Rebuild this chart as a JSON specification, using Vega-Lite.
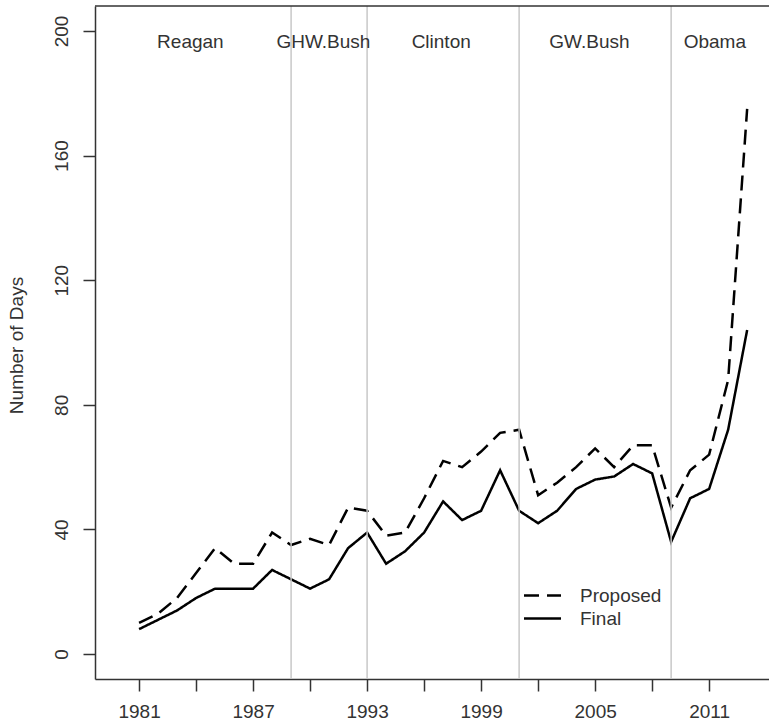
{
  "$schema": "https://vega.github.io/schema/vega-lite/v6.json",
  "width": 674,
  "height": 673,
  "autosize": {"type": "none"},
  "padding": {"left": 95, "top": 6, "right": 0, "bottom": 48},
  "background": "white",
  "config": {
    "view": {"stroke": null},
    "font": "Liberation Sans",
    "axis": {
      "grid": false,
      "domainColor": "#333",
      "domainWidth": 1.5,
      "tickColor": "#333",
      "tickWidth": 1.5,
      "tickSize": 12,
      "labelFont": "Liberation Sans",
      "labelFontSize": 19,
      "labelColor": "#333",
      "titleFont": "Liberation Sans",
      "titleFontSize": 19,
      "titleFontWeight": "normal",
      "titleColor": "#333"
    }
  },
  "datasets": {
    "days": [
      {"year": 1981, "type": "Proposed", "days": 10}, {"year": 1981, "type": "Final", "days": 8},
      {"year": 1982, "type": "Proposed", "days": 13}, {"year": 1982, "type": "Final", "days": 11},
      {"year": 1983, "type": "Proposed", "days": 18}, {"year": 1983, "type": "Final", "days": 14},
      {"year": 1984, "type": "Proposed", "days": 26}, {"year": 1984, "type": "Final", "days": 18},
      {"year": 1985, "type": "Proposed", "days": 34}, {"year": 1985, "type": "Final", "days": 21},
      {"year": 1986, "type": "Proposed", "days": 29}, {"year": 1986, "type": "Final", "days": 21},
      {"year": 1987, "type": "Proposed", "days": 29}, {"year": 1987, "type": "Final", "days": 21},
      {"year": 1988, "type": "Proposed", "days": 39}, {"year": 1988, "type": "Final", "days": 27},
      {"year": 1989, "type": "Proposed", "days": 35}, {"year": 1989, "type": "Final", "days": 24},
      {"year": 1990, "type": "Proposed", "days": 37}, {"year": 1990, "type": "Final", "days": 21},
      {"year": 1991, "type": "Proposed", "days": 35}, {"year": 1991, "type": "Final", "days": 24},
      {"year": 1992, "type": "Proposed", "days": 47}, {"year": 1992, "type": "Final", "days": 34},
      {"year": 1993, "type": "Proposed", "days": 46}, {"year": 1993, "type": "Final", "days": 39},
      {"year": 1994, "type": "Proposed", "days": 38}, {"year": 1994, "type": "Final", "days": 29},
      {"year": 1995, "type": "Proposed", "days": 39}, {"year": 1995, "type": "Final", "days": 33},
      {"year": 1996, "type": "Proposed", "days": 50}, {"year": 1996, "type": "Final", "days": 39},
      {"year": 1997, "type": "Proposed", "days": 62}, {"year": 1997, "type": "Final", "days": 49},
      {"year": 1998, "type": "Proposed", "days": 60}, {"year": 1998, "type": "Final", "days": 43},
      {"year": 1999, "type": "Proposed", "days": 65}, {"year": 1999, "type": "Final", "days": 46},
      {"year": 2000, "type": "Proposed", "days": 71}, {"year": 2000, "type": "Final", "days": 59},
      {"year": 2001, "type": "Proposed", "days": 72}, {"year": 2001, "type": "Final", "days": 46},
      {"year": 2002, "type": "Proposed", "days": 51}, {"year": 2002, "type": "Final", "days": 42},
      {"year": 2003, "type": "Proposed", "days": 55}, {"year": 2003, "type": "Final", "days": 46},
      {"year": 2004, "type": "Proposed", "days": 60}, {"year": 2004, "type": "Final", "days": 53},
      {"year": 2005, "type": "Proposed", "days": 66}, {"year": 2005, "type": "Final", "days": 56},
      {"year": 2006, "type": "Proposed", "days": 60}, {"year": 2006, "type": "Final", "days": 57},
      {"year": 2007, "type": "Proposed", "days": 67}, {"year": 2007, "type": "Final", "days": 61},
      {"year": 2008, "type": "Proposed", "days": 67}, {"year": 2008, "type": "Final", "days": 58},
      {"year": 2009, "type": "Proposed", "days": 47}, {"year": 2009, "type": "Final", "days": 36},
      {"year": 2010, "type": "Proposed", "days": 59}, {"year": 2010, "type": "Final", "days": 50},
      {"year": 2011, "type": "Proposed", "days": 64}, {"year": 2011, "type": "Final", "days": 53},
      {"year": 2012, "type": "Proposed", "days": 88}, {"year": 2012, "type": "Final", "days": 72},
      {"year": 2013, "type": "Proposed", "days": 175}, {"year": 2013, "type": "Final", "days": 104}
    ],
    "terms": [
      {"year": 1989}, {"year": 1993}, {"year": 2001}, {"year": 2009}
    ],
    "presidents": [
      {"name": "Reagan", "year": 1983.7, "days": 196.4},
      {"name": "GHW.Bush", "year": 1990.7, "days": 196.4},
      {"name": "Clinton", "year": 1996.9, "days": 196.4},
      {"name": "GW.Bush", "year": 2004.7, "days": 196.4},
      {"name": "Obama", "year": 2011.3, "days": 196.4}
    ],
    "frame": [{"days": 208}]
  },
  "layer": [
    {
      "data": {"name": "days"},
      "mark": {"type": "line", "color": "black", "strokeWidth": 2.5, "strokeCap": "butt"},
      "encoding": {
        "x": {
          "field": "year", "type": "quantitative",
          "scale": {"domain": [1978.68, 2014.15], "nice": false, "zero": false},
          "axis": {
            "title": null,
            "values": [1981, 1984, 1987, 1990, 1993, 1996, 1999, 2002, 2005, 2008, 2011],
            "labelExpr": "(datum.value - 1981) % 6 == 0 ? datum.value : ''",
            "labelPadding": 11,
            "labelFlush": false,
            "labelOverlap": false
          }
        },
        "y": {
          "field": "days", "type": "quantitative",
          "scale": {"domain": [-8, 208], "nice": false, "zero": false},
          "axis": {
            "title": "Number of Days",
            "values": [0, 40, 80, 120, 160, 200],
            "labelAngle": -90,
            "labelAlign": "center",
            "labelBaseline": "alphabetic",
            "labelPadding": 16,
            "labelFlush": false,
            "labelOverlap": false,
            "titleX": -73,
            "titleY": 339,
            "titleAngle": -90,
            "titleAlign": "center",
            "titleBaseline": "alphabetic"
          }
        },
        "strokeDash": {
          "field": "type", "type": "nominal",
          "scale": {"domain": ["Proposed", "Final"], "range": [[15, 8], [1, 0]]},
          "legend": {
            "title": null,
            "orient": "none",
            "legendX": 437,
            "legendY": 579,
            "padding": 0,
            "symbolType": "M-2,0H2",
            "symbolSize": 342,
            "symbolStrokeColor": "black",
            "symbolStrokeWidth": 2.5,
            "labelFont": "Liberation Sans",
            "labelFontSize": 19,
            "labelColor": "#333",
            "labelOffset": 27,
            "rowPadding": 2
          }
        }
      }
    },
    {
      "data": {"name": "terms"},
      "mark": {"type": "rule", "color": "#c8c8c8", "strokeWidth": 1.5},
      "encoding": {
        "x": {"field": "year", "type": "quantitative"}
      }
    },
    {
      "data": {"name": "presidents"},
      "mark": {"type": "text", "font": "Liberation Sans", "fontSize": 19, "color": "#333", "align": "center", "baseline": "middle"},
      "encoding": {
        "x": {"field": "year", "type": "quantitative"},
        "y": {"field": "days", "type": "quantitative"},
        "text": {"field": "name"}
      }
    },
    {
      "data": {"name": "frame"},
      "mark": {"type": "rule", "color": "#333", "strokeWidth": 1.5},
      "encoding": {
        "y": {"field": "days", "type": "quantitative"}
      }
    }
  ]
}
